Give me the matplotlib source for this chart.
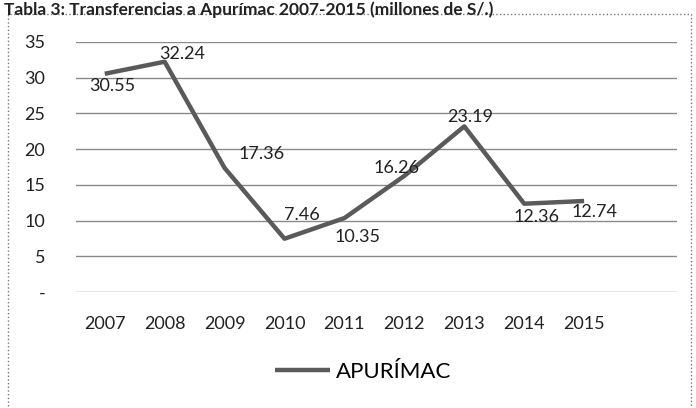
import matplotlib.pyplot as plt
from matplotlib.patches import Rectangle

plt.rcParams['font.family'] = ['Lato', 'DejaVu Sans']

# data
years = ['2007', '2008', '2009', '2010', '2011', '2012', '2013', '2014', '2015']
valores = [30.55, 32.24, 17.36, 7.46, 10.35, 16.26, 23.19, 12.36, 12.74]
y_ticks = [0, 5, 10, 15, 20, 25, 30, 35]
y_labels = ['-', '5', '10', '15', '20', '25', '30', '35']

# where each value label sits relative to its point (pixels)
label_offsets = [(7, -12), (18, 8), (37, 14), (17, 24), (13, -19),
                 (-8, 8), (6, 9), (12, -13), (10, -11)]

fig = plt.figure(figsize=(6.96, 4.08), dpi=100)
ax = fig.add_axes([76 / 696, 1 - 292 / 408, (677 - 76) / 696, 250 / 408])

x = list(range(len(years)))
line, = ax.plot(x, valores, color='#5a5a5a', lw=3.2, solid_capstyle='butt',
                label='APURÍMAC')

for xi, v, (dx, dy) in zip(x, valores, label_offsets):
    ax.annotate(f'{v:.2f}', (xi, v), xytext=(dx, dy), textcoords='offset pixels',
                ha='center', va='center', fontsize=13, color='#222222')

ax.set_ylim(0, 35)
ax.set_xlim(-0.48, 9.55)
ax.set_yticks(y_ticks)
ax.set_yticklabels(y_labels)
ax.set_xticks(x)
ax.set_xticklabels(years)
ax.grid(axis='y', color='#8a8a8a', lw=1)
ax.set_axisbelow(True)
for s in ax.spines.values():
    s.set_visible(False)
ax.tick_params(length=0, labelsize=13, labelcolor='#222222')
ax.tick_params(axis='y', pad=22)
ax.tick_params(axis='x', pad=17)

# legend
fig.legend(handles=[line], loc='center', bbox_to_anchor=(363 / 696, 1 - 372 / 408),
           frameon=False, fontsize=16, handlelength=2.5, handletextpad=0.25)

# outer chart frame and title
fig.patches.append(Rectangle((8 / 696, -0.05), 683 / 696, 1.05 - 14 / 408,
                             transform=fig.transFigure, fill=False,
                             edgecolor='#777777', lw=1, ls=':'))
fig.text(4 / 696, 1 - 1 / 408,
         'Tabla 3: Transferencias a Apurímac 2007-2015 (millones de S/.)',
         fontsize=12.5, fontweight='bold', color='#222222', va='top')

fig.savefig('out.png', dpi=100)
